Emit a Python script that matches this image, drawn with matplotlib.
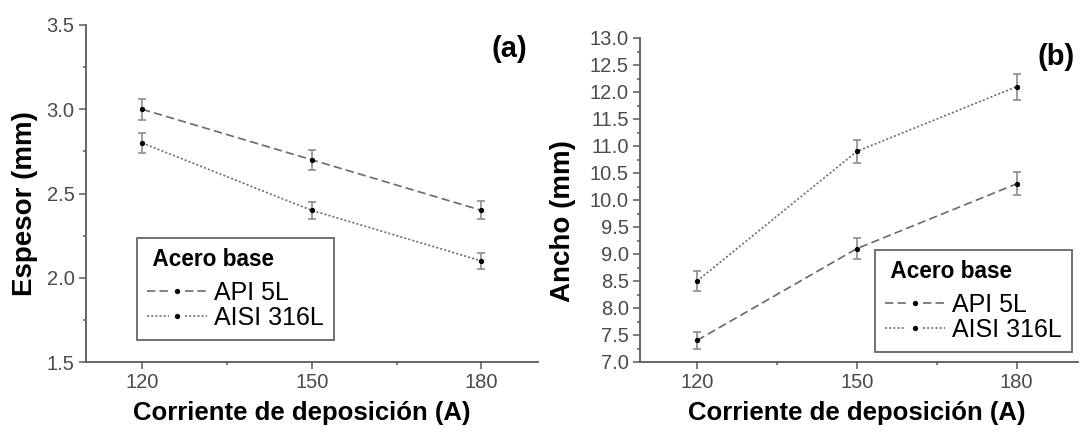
import matplotlib.pyplot as plt
from matplotlib.ticker import MultipleLocator, FormatStrFormatter
from matplotlib.lines import Line2D
from matplotlib.legend_handler import HandlerBase

plt.rcParams['font.family'] = ['Liberation Sans', 'DejaVu Sans']

corriente = [120, 150, 180]
series = ['API 5L', 'AISI 316L']

espesor_api = [3.0, 2.7, 2.4]
espesor_api_err = [0.062, 0.058, 0.053]
espesor_aisi = [2.8, 2.4, 2.1]
espesor_aisi_err = [0.06, 0.05, 0.047]

ancho_api = [7.4, 9.1, 10.3]
ancho_api_err = [0.16, 0.19, 0.21]
ancho_aisi = [8.5, 10.9, 12.1]
ancho_aisi_err = [0.19, 0.22, 0.24]

W, H = 1081, 433
fig = plt.figure(figsize=(W/100, H/100), dpi=100)

def px_axes(x0, y0, x1, y1):
    return fig.add_axes([x0/W, 1 - y1/H, (x1-x0)/W, (y1-y0)/H])

line_col = '#6a6a6a'
err_col = '#8c8c8c'
spine_col = '#5a5a5a'
tick_col = '#4a4a4a'
DASH = (0, (5, 2.5))
DOT = (0, (1.2, 1.3))

class GapHandler(HandlerBase):
    def create_artists(self, legend, orig_handle, xdescent, ydescent,
                       width, height, fontsize, trans):
        y = height/2 - ydescent
        x0 = -xdescent
        gap = width*0.14
        l1 = Line2D([x0, x0 + width/2 - gap], [y, y], color=line_col, lw=1.2,
                    linestyle=orig_handle._ls_spec)
        l2 = Line2D([x0 + width/2 + gap, x0 + width], [y, y], color=line_col, lw=1.2,
                    linestyle=orig_handle._ls_spec)
        m = Line2D([x0 + width/2], [y], marker='o', ms=2.8, mfc='black', mec='black', ls='none')
        for a in (l1, l2, m):
            a.set_transform(trans)
        return [l1, l2, m]

def make_handles():
    h1 = Line2D([], [], color=line_col)
    h1._ls_spec = DASH
    h2 = Line2D([], [], color=line_col)
    h2._ls_spec = DOT
    return [h1, h2]

def style(ax, xmin, xmax):
    for s in ['top', 'right']:
        ax.spines[s].set_visible(False)
    for s in ['left', 'bottom']:
        ax.spines[s].set_color(spine_col)
        ax.spines[s].set_linewidth(1.3)
    ax.tick_params(which='both', direction='out', colors=spine_col, labelcolor=tick_col,
                   labelsize=14.5, width=1.1, pad=3)
    ax.tick_params(which='major', length=5)
    ax.tick_params(which='minor', length=2.5)
    ax.set_xlim(xmin, xmax)
    ax.set_xticks(corriente)
    ax.xaxis.set_minor_locator(MultipleLocator(15))
    ax.yaxis.set_major_locator(MultipleLocator(0.5))
    ax.yaxis.set_minor_locator(MultipleLocator(0.25))
    ax.yaxis.set_major_formatter(FormatStrFormatter('%.1f'))

def draw(ax, y1, e1, y2, e2):
    for y, e, ls in ((y1, e1, DASH), (y2, e2, DOT)):
        ax.errorbar(corriente, y, yerr=e, color=line_col, ls=ls, lw=1.2,
                    marker='o', ms=2.8, mfc='black', mec='black', ecolor=err_col,
                    elinewidth=1.2, capsize=3, capthick=1.2)

def legend(ax, anchor, loc):
    leg = ax.legend(make_handles(), series, title=' Acero base', loc=loc,
                    bbox_to_anchor=(anchor[0]/W, 1 - anchor[1]/H),
                    bbox_transform=fig.transFigure,
                    handler_map={Line2D: GapHandler()},
                    prop={'size': 18}, title_fontproperties={'weight': 'bold', 'size': 16.3},
                    fancybox=False, edgecolor='#666666', framealpha=1, handlelength=2.4,
                    borderpad=0.4, labelspacing=0.05, handletextpad=0.3, borderaxespad=0)
    leg.get_frame().set_linewidth(1.3)
    leg._legend_box.align = 'left'
    leg._legend_box.sep = 7
    return leg

# Panel (a)
ax1 = px_axes(85.5, 25, 538, 362)
style(ax1, 110, 190)
draw(ax1, espesor_api, espesor_api_err, espesor_aisi, espesor_aisi_err)
ax1.set_ylim(1.5, 3.5)
ax1.set_ylabel('Espesor (mm)', fontsize=20, fontweight='bold')
ax1.yaxis.set_label_coords(-0.105, 0.469)
ax1.set_xlabel('Corriente de deposición (A)', fontsize=18.5, fontweight='bold')
ax1.xaxis.set_label_coords(0.478, -0.115)
legend(ax1, (137, 340), 'lower left')
fig.text(527/W, 1 - 49/H, '(a)', fontsize=21, fontweight='bold', ha='right', va='center')

# Panel (b)
ax2 = px_axes(640, 38, 1078, 362)
style(ax2, 109.3, 191.5)
draw(ax2, ancho_api, ancho_api_err, ancho_aisi, ancho_aisi_err)
ax2.set_ylim(7.0, 13.0)
ax2.set_ylabel('Ancho (mm)', fontsize=20, fontweight='bold')
ax2.yaxis.set_label_coords(-0.146, 0.435)
ax2.set_xlabel('Corriente de deposición (A)', fontsize=18.5, fontweight='bold')
ax2.xaxis.set_label_coords(0.495, -0.12)
legend(ax2, (1072, 352), 'lower right')
fig.text(1075/W, 1 - 57/H, '(b)', fontsize=21, fontweight='bold', ha='right', va='center')

fig.savefig('out.png', dpi=100)
